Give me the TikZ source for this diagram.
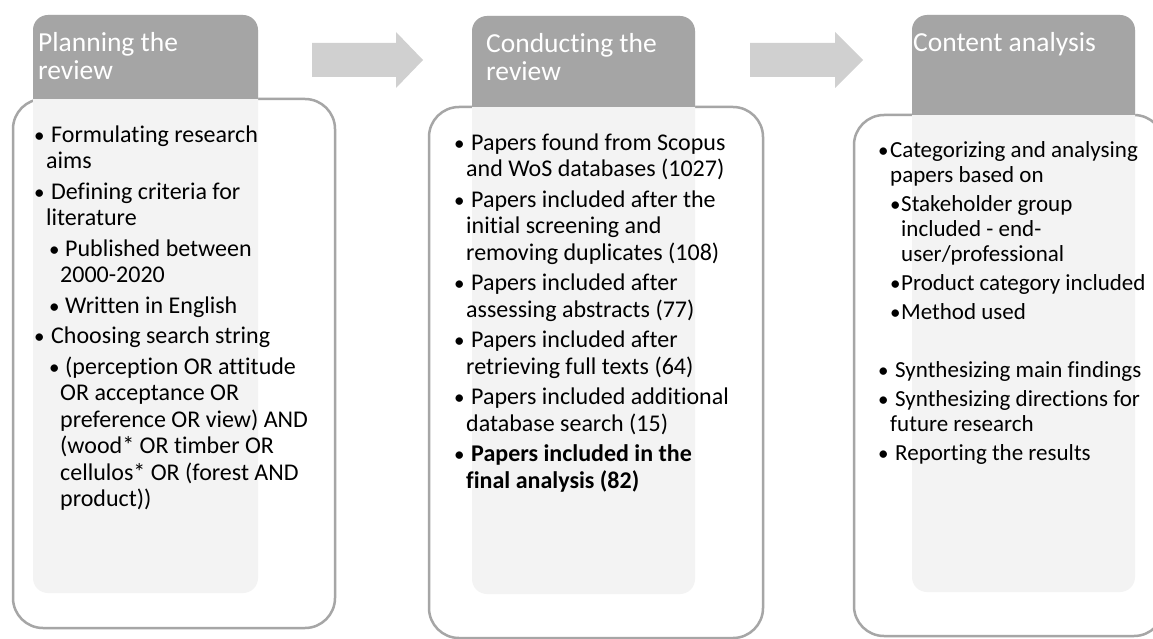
\documentclass[tikz,border=0pt]{standalone}
\usepackage{fontspec}
\setmainfont{Carlito}[Ligatures=NoCommon]
\definecolor{hdr}{HTML}{A5A5A5}
\definecolor{lite}{HTML}{F3F3F3}
\definecolor{edgegrey}{HTML}{A6A6A6}
\definecolor{arrgrey}{HTML}{D0D0D0}
% bullet glyph, slightly smaller and shifted left
\newcommand\bul{\hspace*{-3pt}{\fontsize{21}{21}\selectfont •}}
% bullets: level 1 with space, continuation, level 2 with space, continuation
\newcommand\Ab{\makebox[9pt][l]{\bul}\hspace*{5pt}}
\newcommand\Ac{\hspace*{9pt}}
\newcommand\Bb{\hspace*{15pt}\makebox[8pt][l]{\bul}\hspace*{5pt}}
\newcommand\Bc{\hspace*{23pt}}
\newcommand\Cb{\makebox[9pt][l]{\bul}}
\newcommand\Db{\hspace*{12pt}\makebox[8pt][l]{\bul}}
\newcommand\Dc{\hspace*{20pt}}
\newcommand\firststrut{\rule{0pt}{21pt}}
\tikzset{
  outlinebox/.style={draw=edgegrey, line width=2.5pt, fill=white, rounded corners=30pt},
  litebox/.style={fill=lite, rounded corners=15pt},
  darkbox/.style={fill=hdr, rounded corners=15pt},
  blockarrow/.style={fill=arrgrey},
  bodytext/.style={anchor=north west, inner sep=0pt, align=left, text=black,
    font=\fontsize{24}{26.5}\selectfont},
  bodytextc/.style={anchor=north west, inner sep=0pt, align=left, text=black,
    font=\fontsize{23}{25}\selectfont},
  titletext/.style={anchor=north west, inner sep=0pt, align=left, text=white,
    font=\fontsize{27.5}{28}\selectfont}
}
\begin{document}
\begin{tikzpicture}[x=1pt,y=-1pt]
\useasboundingbox (0,0) rectangle (1153,639);
\clip (0,0) rectangle (1153,639);
\fill[white] (0,0) rectangle (1153,639);

% ---------- column 1 ----------
\draw[outlinebox] (13,99) rectangle (335,628);
\fill[litebox] (33,15) rectangle (258,593);
\begin{scope}
  \clip (0,0) rectangle (1153,99);
  \fill[darkbox] (33,15) rectangle (258,593);
\end{scope}
\node[titletext] (h1) at (38,27) {\rule{0pt}{24pt}Planning the\\review};
\node[bodytext] (t1) at (37,121) {\firststrut\Ab Formulating research\\
\Ac aims\\[4pt]
\Ab Defining criteria for\\
\Ac literature\\[4pt]
\Bb Published between\\
\Bc 2000-2020\\[4pt]
\Bb Written in English\\[4pt]
\Ab Choosing search string\\[4pt]
\Bb (perception OR attitude\\
\Bc OR acceptance OR\\
\Bc preference OR view) AND\\
\Bc (wood* OR timber OR\\
\Bc cellulos* OR (forest AND\\
\Bc product))};

% ---------- column 2 ----------
\draw[outlinebox] (429,107) rectangle (763,638);
\fill[litebox] (472,16) rectangle (695,594);
\begin{scope}
  \clip (0,0) rectangle (1153,107);
  \fill[darkbox] (472,16) rectangle (695,594);
\end{scope}
\node[titletext] (h2) at (486,28) {\rule{0pt}{24pt}Conducting the\\review};
\node[bodytext] (t2) at (457,129) {\firststrut\Ab Papers found from Scopus\\
\Ac and WoS databases (1027)\\[4pt]
\Ab Papers included after the\\
\Ac initial screening and\\
\Ac removing duplicates (108)\\[4pt]
\Ab Papers included after\\
\Ac assessing abstracts (77)\\[4pt]
\Ab Papers included after\\
\Ac retrieving full texts (64)\\[4pt]
\Ab Papers included additional\\
\Ac database search (15)\\[4pt]
\Ab\textbf{Papers included in the}\\
\Ac\textbf{final analysis (82)}};

% ---------- column 3 ----------
\draw[outlinebox] (854,115) rectangle (1164,636);
\fill[litebox] (912,15) rectangle (1135,592);
\begin{scope}
  \clip (0,0) rectangle (1153,115);
  \fill[darkbox] (912,15) rectangle (1135,592);
\end{scope}
\node[titletext] (h3) at (913,27) {\rule{0pt}{24pt}Content analysis};
\node[bodytextc] (t3) at (881,136) {\firststrut\Cb Categorizing and analysing\\
\Ac papers based on\\[4pt]
\Db Stakeholder group\\
\Dc included - end-\\
\Dc user/professional\\[4pt]
\Db Product category included\\[4pt]
\Db Method used\\[4pt]
\mbox{}\\[4pt]
\Ab Synthesizing main findings\\[4pt]
\Ab Synthesizing directions for\\
\Ac future research\\[4pt]
\Ab Reporting the results};

% ---------- block arrows ----------
\fill[blockarrow] (312,43) -- (396,43) -- (396,32) -- (423,60) -- (396,88) -- (396,77) -- (312,77) -- cycle;
\fill[blockarrow] (750,43) -- (835,43) -- (835,32) -- (863,60) -- (835,88) -- (835,77) -- (750,77) -- cycle;
\end{tikzpicture}
\end{document}
